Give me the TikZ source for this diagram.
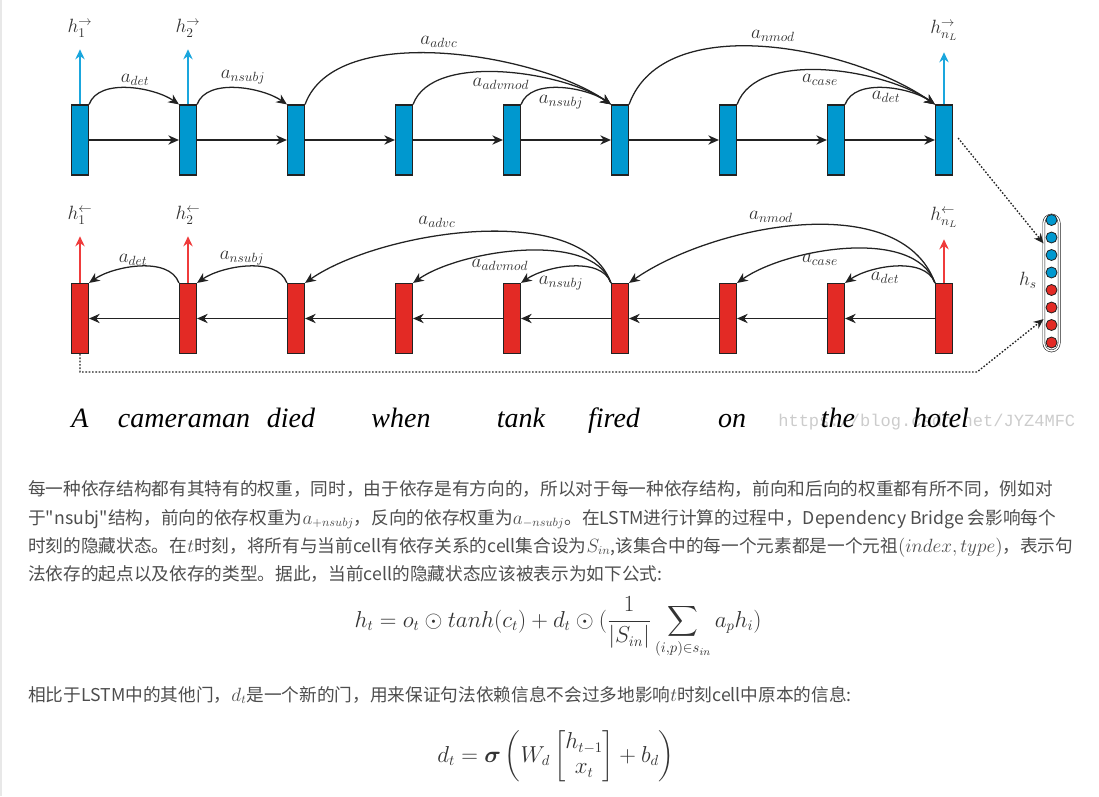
\documentclass[tikz,border=0pt]{standalone}
\usepackage{amsmath,amssymb}
\usepackage{bm}
\usepackage{fontspec}
\usepackage{tikz}
\usetikzlibrary{arrows.meta,positioning,calc}
\newfontfamily\cjk{Noto Sans CJK SC}
\newfontfamily\wordfont{Liberation Serif}
\newfontfamily\markfont{Liberation Mono}
\definecolor{cellblue}{HTML}{0098CF}
\definecolor{cellred}{HTML}{E32A25}
\definecolor{upblue}{HTML}{1AA6DD}
\definecolor{upred}{HTML}{EF3B3B}
\definecolor{ink}{HTML}{222222}
\definecolor{bodygray}{HTML}{4D4D4D}
\definecolor{labgray}{HTML}{333333}
\definecolor{markgray}{HTML}{CCCCCC}
\definecolor{edgegray}{HTML}{E8E8E8}
\tikzset{
  bluecell/.style={draw=ink,fill=cellblue,line width=0.85pt,minimum width=12.75pt,
                   minimum height=52.5pt,inner sep=0pt},
  redcell/.style={draw=ink,fill=cellred,line width=0.85pt,minimum width=12.75pt,
                  minimum height=52.5pt,inner sep=0pt},
  unitb/.style={circle,draw=ink,fill=cellblue,line width=0.6pt,minimum size=8.25pt,inner sep=0pt},
  unitr/.style={circle,draw=ink,fill=cellred,line width=0.6pt,minimum size=8.25pt,inner sep=0pt},
  capsule/.style={draw=ink,double=white,double distance=1.1pt,line width=0.45pt,
                  rounded corners=6pt,minimum width=11.5pt,minimum height=102pt,inner sep=0pt},
  seqarr/.style={-{Stealth[length=8pt,width=7pt]},line width=1pt,draw=ink},
  deparc/.style={-{Stealth[length=8pt,width=7pt]},line width=0.95pt,draw=ink},
  bluearr/.style={-{Stealth[length=7.5pt,width=7pt]},line width=1.5pt,draw=upblue,
                  shorten >=9pt},
  redarr/.style={-{Stealth[length=7.5pt,width=7pt]},line width=1.5pt,draw=upred,
                 shorten >=9pt},
  dotarr/.style={-{Stealth[length=7.5pt,width=6.5pt]},line width=1pt,
                 dash pattern=on 1.2pt off 1.3pt,draw=ink},
  arclab/.style={font=\fontsize{14}{16}\selectfont,text=labgray,inner sep=0pt},
  hlab/.style={font=\fontsize{14}{16}\selectfont,text=labgray,inner sep=0pt},
  word/.style={font=\wordfont\itshape\fontsize{21}{24}\selectfont,anchor=base,inner sep=0pt},
  bodyline/.style={font=\cjk\fontsize{13.25}{16}\selectfont,text=bodygray,anchor=base west,
                   inner sep=0pt},
  formula/.style={font=\fontsize{16}{19}\selectfont,text=labgray,anchor=base,inner sep=0pt}
}
\begin{document}
\begin{tikzpicture}[x=0.75pt,y=-0.75pt]
  \path[use as bounding box] (0,0) rectangle (1099,796);
  \draw[edgegray,line width=1pt] (1,0) -- (1,796);
  % forward and backward cells
  \foreach \i/\x in {1/80,2/188,3/296,4/404,5/512,6/620,7/728,8/836,9/944}{
    \node[bluecell] (f\i) at (\x,140) {};
    \node[redcell] (b\i) at (\x,318.5) {};
  }
  \foreach \i/\j in {1/2,2/3,3/4,4/5,5/6,6/7,7/8,8/9}{
    \draw[seqarr] (f\i) -- (f\j);
    \draw[seqarr] (b\j) -- (b\i);
  }
  % dependency arcs
  \foreach \s/\t/\l in {1/2/0.83,2/3/0.83,3/6/0.75,4/6/0.735,5/6/0.83,6/9/0.85,7/9/0.78,8/9/0.83}{
    \draw[deparc] (f\s.north east) to[out=70,in=145,looseness=\l] (f\t.north west);
    \draw[deparc] (b\t.north west) to[out=110,in=35,looseness=\l] (b\s.north east);
  }
  \node[arclab] (fl1) at (135,80) {$a_{det}$};
  \node[arclab] (fl2) at (243,77) {$a_{nsubj}$};
  \node[arclab] (fl3) at (439,42) {$a_{advc}$};
  \node[arclab] (fl4) at (501,84) {$a_{advmod}$};
  \node[arclab] (fl5) at (561,102) {$a_{nsubj}$};
  \node[arclab] (fl6) at (773,36) {$a_{nmod}$};
  \node[arclab] (fl7) at (820,80) {$a_{case}$};
  \node[arclab] (fl8) at (886,97) {$a_{det}$};
  \node[arclab] (bl1) at (133,260) {$a_{det}$};
  \node[arclab] (bl2) at (242,258) {$a_{nsubj}$};
  \node[arclab] (bl3) at (437,222) {$a_{advc}$};
  \node[arclab] (bl4) at (500,265) {$a_{advmod}$};
  \node[arclab] (bl5) at (561,283) {$a_{nsubj}$};
  \node[arclab] (bl6) at (771,217) {$a_{nmod}$};
  \node[arclab] (bl7) at (820,260) {$a_{case}$};
  \node[arclab] (bl8) at (885,278) {$a_{det}$};
  % outputs
  \node[hlab] (hf1) at (80,28) {$h^{\rightarrow}_{1}$};
  \node[hlab] (hf2) at (188,28) {$h^{\rightarrow}_{2}$};
  \node[hlab] (hf9) at (944,30) {$h^{\rightarrow}_{n_L}$};
  \node[hlab] (hb1) at (80,215) {$h^{\leftarrow}_{1}$};
  \node[hlab] (hb2) at (188,215) {$h^{\leftarrow}_{2}$};
  \node[hlab] (hb9) at (944,217) {$h^{\leftarrow}_{n_L}$};
  \draw[bluearr] (f1.north) -- (hf1.south);
  \draw[bluearr] (f2.north) -- (hf2.south);
  \draw[bluearr] (f9.north) -- (hf9.south);
  \draw[redarr] (b1.north) -- (hb1.south);
  \draw[redarr] (b2.north) -- (hb2.south);
  \draw[redarr] (b9.north) -- (hb9.south);
  % sentence vector
  \node[capsule] (hs) at (1051.5,283) {};
  \foreach \k in {1,...,4}{
    \node[unitb] (c\k) at (1051.5,202.5+17.5*\k) {};
  }
  \foreach \k in {5,...,8}{
    \node[unitr] (c\k) at (1051.5,202.5+17.5*\k) {};
  }
  \node[hlab] (hsl) at (1028,280) {$h_s$};
  \coordinate (turn) at (977,372);
  \draw[dotarr] (f9.east) ++(5,-2) -- (hs.west |- c2.south);
  \draw[dotarr] (b1.south) |- (turn) -- (hs.west |- c7.north);
  % words
  \node[font=\markfont\fontsize{12.8}{14}\selectfont,text=markgray,anchor=base west,inner sep=0pt]
    (mark) at (778,426) {https://blog.csdn.net/JYZ4MFC};
  \node[word] (w1) at (80,427) {A};
  \node[word] (w2) at (184,427) {cameraman};
  \node[word] (w3) at (291,427) {died};
  \node[word] (w4) at (401,427) {when};
  \node[word] (w5) at (521,427) {tank};
  \node[word] (w6) at (614,427) {fired};
  \node[word] (w7) at (732,427) {on};
  \node[word] (w8) at (838,427) {the};
  \node[word] (w9) at (941,427) {hotel};
  % text below
  \node[bodyline] (t1) at (28,495)
    {每一种依存结构都有其特有的权重，同时，由于依存是有方向的，所以对于每一种依存结构，前向和后向的权重都有所不同，例如对};
  \node[bodyline] (t2) at (28,524)
    {于"nsubj"结构，前向的依存权重为$a_{+nsubj}$，反向的依存权重为$a_{-nsubj}$。在LSTM进行计算的过程中，Dependency Bridge 会影响每个};
  \node[bodyline] (t3) at (28,552)
    {时刻的隐藏状态。在$t$时刻，将所有与当前cell有依存关系的cell集合设为$S_{in}$,该集合中的每一个元素都是一个元祖$(index,type)$，表示句};
  \node[bodyline] (t4) at (28,580)
    {法依存的起点以及依存的类型。据此，当前cell的隐藏状态应该被表示为如下公式:};
  \node[formula] (eq1) at (558,627)
    {$\displaystyle h_t = o_t \odot tanh(c_t) + d_t \odot (\frac{1}{|S_{in}|}\sum_{(i,p)\in s_{in}} a_p h_i)$};
  \node[bodyline] (t5) at (28,701)
    {相比于LSTM中的其他门，$d_t$是一个新的门，用来保证句法依赖信息不会过多地影响$t$时刻cell中原本的信息:};
  \node[formula] (eq2) at (556,762)
    {$\displaystyle d_t = \bm{\sigma}\left( W_d \begin{bmatrix} h_{t-1}\\ x_t \end{bmatrix} + b_d \right)$};
\end{tikzpicture}
\end{document}
